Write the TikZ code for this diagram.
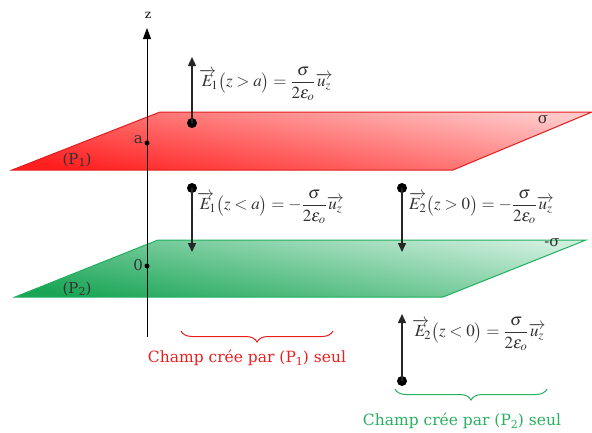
\documentclass[tikz,border=0pt]{standalone}
\usepackage{amsmath}
\usepackage{mathptmx}
\usepackage{fontspec}
\setmainfont{DejaVu Serif}
\usetikzlibrary{arrows.meta,decorations.pathreplacing}
\definecolor{redEdge}{RGB}{225,30,30}
\definecolor{redDark}{RGB}{255,30,30}
\definecolor{redLight}{RGB}{255,200,200}
\definecolor{greenEdge}{RGB}{30,175,95}
\definecolor{greenDark}{RGB}{25,165,85}
\definecolor{greenLight}{RGB}{205,238,220}
\definecolor{capRed}{RGB}{235,30,30}
\definecolor{capGreen}{RGB}{40,175,95}
\definecolor{labelGray}{RGB}{50,50,50}
\newcommand{\lsub}[1]{\raisebox{-0.3ex}{\fontsize{11}{11}\selectfont #1}}
\newcommand{\Evec}[1]{\overrightarrow{E}\mkern-5mu_{\mathrm{#1}}}
\tikzset{
  fieldarrow/.style={line width=1.4pt, draw=black!85, -{Triangle[length=9pt,width=8pt]}},
  bigdot/.style={circle, fill=black, inner sep=0pt, minimum size=10pt},
  smalldot/.style={circle, fill=black, inner sep=0pt, minimum size=5pt},
  formula/.style={anchor=west, inner sep=0pt, text=black!80, font=\fontsize{17}{20}\selectfont},
  lbl/.style={inner sep=0pt, text=labelGray, font=\fontsize{15}{18}\selectfont},
  caption/.style={inner sep=0pt, font=\fontsize{15.5}{18}\selectfont},
  bracestyle/.style={decorate, decoration={brace, amplitude=11pt, mirror}, line width=1pt}
}
\begin{document}
\begin{tikzpicture}[x=1pt,y=-1pt]
\useasboundingbox (0,0) rectangle (592,432);
% red plane
\shade[top color=redLight, bottom color=redDark, shading angle=-10]
  (12,170) -- (160,112) -- (592,112) -- (453,170) -- cycle;
\draw[redEdge, line width=1pt] (12,170) -- (160,112) -- (592,112) -- (453,170) -- cycle;
% green plane
\shade[top color=greenLight, bottom color=greenDark, shading angle=-10]
  (15,297) -- (158,240) -- (586,240) -- (443,297) -- cycle;
\draw[greenEdge, line width=1pt] (15,297) -- (158,240) -- (586,240) -- (443,297) -- cycle;
% axis
\coordinate (zb) at (147,337);
\coordinate (zt) at (147,28);
\draw[line width=0.9pt, -{Triangle[length=11pt,width=8pt]}] (zb) -- (zt);
\node[inner sep=0pt, font=\fontsize{12}{14}\selectfont] (zl) at (148,15) {z};
\node[smalldot] (pa) at (147,143) {};
\node[smalldot] (p0) at (147,266) {};
\node[lbl, anchor=east] (la) at (143,140) {a};
\node[lbl, anchor=east] (l0) at (143,265) {0};
\node[lbl] (P1) at (77,160) {(P\lsub{1})};
\node[lbl] (P2) at (77,289) {(P\lsub{2})};
\node[lbl] (sig1) at (543,120) {σ};
\node[lbl] (sig2) at (552,243) {-σ};
% fields
\node[bigdot] (d1) at (192,123) {};
\coordinate (t1) at (192,57);
\draw[fieldarrow] (d1.center) -- (t1);
\node[formula] (f1) at (199,84) {$\Evec{1}\bigl(z>a\bigr)=\dfrac{\sigma}{2\varepsilon_o}\overrightarrow{u_z}$};
\node[bigdot] (d2) at (192,188) {};
\coordinate (t2) at (192,252);
\draw[fieldarrow] (d2.center) -- (t2);
\node[formula] (f2) at (197,207) {$\Evec{1}\bigl(z<a\bigr)=-\dfrac{\sigma}{2\varepsilon_o}\overrightarrow{u_z}$};
\node[bigdot] (d3) at (402,188) {};
\coordinate (t3) at (402,252);
\draw[fieldarrow] (d3.center) -- (t3);
\node[formula] (f3) at (409,207) {$\overrightarrow{E_{\mathrm{2}}}\bigl(z>0\bigr)=-\dfrac{\sigma}{2\varepsilon_o}\overrightarrow{u_z}$};
\node[bigdot] (d4) at (402,381) {};
\coordinate (t4) at (402,314);
\draw[fieldarrow] (d4.center) -- (t4);
\node[formula] (f4) at (412,334) {$\Evec{2}\bigl(z<0\bigr)=\dfrac{\sigma}{2\varepsilon_o}\overrightarrow{u_z}$};
% braces
\coordinate (b1l) at (181,331);
\coordinate (b1r) at (333,331);
\draw[bracestyle, capRed] (b1l) -- (b1r);
\node[caption, text=capRed] (c1) at (247,358) {Champ crée par (P\lsub{1}) seul};
\coordinate (b2l) at (395,389);
\coordinate (b2r) at (547,389);
\draw[bracestyle, capGreen] (b2l) -- (b2r);
\node[caption, text=capGreen] (c2) at (462,421) {Champ crée par (P\lsub{2}) seul};
\end{tikzpicture}
\end{document}
